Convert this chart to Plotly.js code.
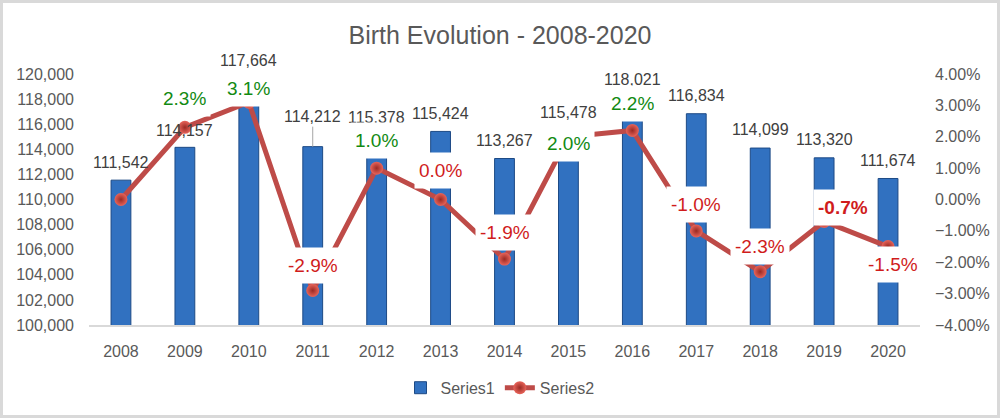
<!DOCTYPE html>
<html>
<head>
<meta charset="utf-8">
<script src="https://cdn.plot.ly/plotly-3.0.1.min.js"></script>
<style>
  html, body { margin: 0; padding: 0; background: #ffffff; }
  #frame { width: 1000px; height: 418px; box-sizing: border-box; border: 3px solid #d9d9d9; background: #fff; }
  #chart { width: 994px; height: 412px; }
</style>
</head>
<body>
<div id="frame"><div id="chart"></div></div>
<script>
// ---- data ----
const years = ['2008','2009','2010','2011','2012','2013','2014','2015','2016','2017','2018','2019','2020'];
const births = [111542, 114157, 117664, 114212, 115378, 115424, 113267, 115478, 118021, 116834, 114099, 113320, 111674];
const changePct = [0.0, 2.3, 3.1, -2.9, 1.0, 0.0, -1.9, 2.0, 2.2, -1.0, -2.3, -0.7, -1.5];
const leftTicks = [100000, 102000, 104000, 106000, 108000, 110000, 112000, 114000, 116000, 118000, 120000];
const rightTicks = [-0.04, -0.03, -0.02, -0.01, 0, 0.01, 0.02, 0.03, 0.04];

// ---- label placement (pixel offsets, styling only) ----
const barLabelShift = [18, 17, 43, 30, 15, 18, 18, 18, 19, 18, 19, 18, 18];
const barLabelLeader = [false, false, false, true, false, false, false, false, false, false, false, false, false];
const pctLabelShift = [0, 29, 14, 25, 28, 29, 27, -7, 27, 26, 25, 14, -18];
const pctLabelXShift = [0, 0, 0, 0, 0, 0, 0, 0, 0, 0, 0, 19, 5];
const pctLabelBold = [false, false, false, false, false, false, false, false, false, false, false, true, false];

const FONT = 'Liberation Sans, Arial, sans-serif';
const GRAY = '#595959';
const GREEN = '#128a12';
const RED = '#d01c1c';

const barTrace = {
  type: 'bar',
  name: 'Series1',
  x: years,
  y: births,
  yaxis: 'y',
  width: 0.31,
  marker: { color: '#3171c0', line: { color: '#1d4a85', width: 1 } },
  hoverinfo: 'x+y'
};

const lineTrace = {
  type: 'scatter',
  mode: 'lines+markers',
  name: 'Series2',
  x: years,
  y: changePct.map(v => v / 100),
  yaxis: 'y2',
  line: { color: '#be4b48', width: 5 },
  marker: { size: 13, color: '#e8645a', gradient: { type: 'radial', color: '#9a2a24' }, line: { width: 0 } },
  hoverinfo: 'x+y'
};

const annotations = [];
years.forEach((yr, i) => {
  const a = {
    x: i, y: births[i], xref: 'x', yref: 'y',
    text: births[i].toLocaleString('en-US'),
    font: { family: FONT, size: 16, color: '#404040' },
    showarrow: false,
    yshift: barLabelShift[i]
  };
  if (barLabelLeader[i]) {
    a.showarrow = true;
    a.arrowhead = 0;
    a.arrowwidth = 1;
    a.arrowcolor = '#a6a6a6';
    a.standoff = 0;
    a.ax = 0;
    a.ay = -barLabelShift[i];
    a.yshift = 0;
  }
  annotations.push(a);
});
years.forEach((yr, i) => {
  if (i === 0) return;
  const v = changePct[i];
  const txt = v.toFixed(1) + '%';
  annotations.push({
    x: i, y: v / 100, xref: 'x', yref: 'y2',
    text: pctLabelBold[i] ? '<b>' + txt + '</b>' : txt,
    font: { family: FONT, size: 19, color: v > 0 ? GREEN : RED },
    showarrow: false,
    bgcolor: '#ffffff',
    borderpad: 4,
    height: 27,
    yshift: pctLabelShift[i],
    xshift: pctLabelXShift[i]
  });
});

const layout = {
  width: 994,
  height: 412,
  margin: { l: 86, r: 77, t: 71, b: 90 },
  paper_bgcolor: '#ffffff',
  plot_bgcolor: '#ffffff',
  font: { family: FONT, size: 16, color: GRAY },
  title: {
    text: 'Birth Evolution - 2008-2020',
    font: { family: FONT, size: 25, color: GRAY },
    x: 0.5, xanchor: 'center',
    yref: 'container', y: 0.922, yanchor: 'middle'
  },
  showlegend: true,
  legend: {
    orientation: 'h',
    xref: 'container', x: 0.5, xanchor: 'center',
    yref: 'container', y: 0.066, yanchor: 'middle',
    font: { family: FONT, size: 16, color: GRAY },
    itemwidth: 30
  },
  xaxis: {
    type: 'category',
    range: [-0.5, years.length - 0.5],
    autorange: false,
    showgrid: false,
    zeroline: false,
    showline: true,
    linecolor: '#d9d9d9',
    linewidth: 2,
    ticks: '',
    ticklabelstandoff: 11,
    tickfont: { family: FONT, size: 16, color: GRAY }
  },
  yaxis: {
    range: [100000, 120000],
    autorange: false,
    tickvals: leftTicks,
    tickformat: ',d',
    showgrid: false,
    zeroline: false,
    showline: false,
    ticks: '',
    ticklabelstandoff: 14,
    tickfont: { family: FONT, size: 16, color: GRAY }
  },
  yaxis2: {
    overlaying: 'y',
    side: 'right',
    range: [-0.04, 0.04],
    autorange: false,
    tickvals: rightTicks,
    tickformat: '.2%',
    showgrid: false,
    zeroline: false,
    showline: false,
    ticks: '',
    ticklabelstandoff: 14,
    tickfont: { family: FONT, size: 16, color: GRAY }
  },
  annotations: annotations
};

Plotly.newPlot('chart', [barTrace, lineTrace], layout, { displayModeBar: false, staticPlot: true });
</script>
</body>
</html>
